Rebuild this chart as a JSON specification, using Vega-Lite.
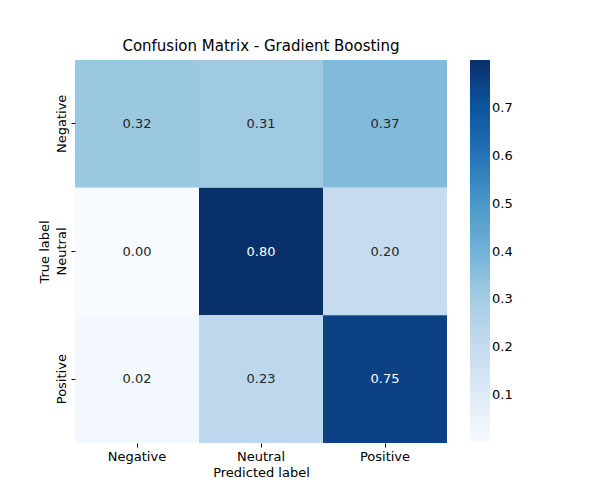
{
  "$schema": "https://vega.github.io/schema/vega-lite/v6.json",
  "autosize": "none",
  "padding": {"left": 75, "top": 60, "right": 153, "bottom": 57},
  "width": 372,
  "height": 383,
  "title": {"text": "Confusion Matrix - Gradient Boosting", "fontSize": 15, "fontWeight": "normal", "font": "DejaVu Sans", "offset": 6, "color": "#000"},
  "data": {"values": [
    {"true": "Negative", "pred": "Negative", "v": 0.32},
    {"true": "Negative", "pred": "Neutral", "v": 0.31},
    {"true": "Negative", "pred": "Positive", "v": 0.37},
    {"true": "Neutral", "pred": "Negative", "v": 0.0},
    {"true": "Neutral", "pred": "Neutral", "v": 0.80},
    {"true": "Neutral", "pred": "Positive", "v": 0.20},
    {"true": "Positive", "pred": "Negative", "v": 0.02},
    {"true": "Positive", "pred": "Neutral", "v": 0.23},
    {"true": "Positive", "pred": "Positive", "v": 0.75}
  ]},
  "encoding": {
    "x": {"field": "pred", "type": "nominal", "sort": ["Negative", "Neutral", "Positive"], "title": "Predicted label",
      "axis": {"labelAngle": 0, "domain": false, "titlePadding": 3}},
    "y": {"field": "true", "type": "nominal", "sort": ["Negative", "Neutral", "Positive"], "title": "True label",
      "axis": {"labelAngle": -90, "labelAlign": "center", "labelBaseline": "bottom", "domain": false, "titlePadding": 4}}
  },
  "layer": [
    {
      "mark": {"type": "rect"},
      "encoding": {
        "color": {"field": "v", "type": "quantitative",
          "scale": {"domain": [0, 0.1, 0.2, 0.3, 0.4, 0.5, 0.6, 0.7, 0.8],
            "range": ["#f7fbff", "#deebf7", "#c6dbef", "#a5cde3", "#72b2d8", "#4a98c9", "#2474b7", "#0b559f", "#08306b"]},
          "legend": {"title": null, "orient": "none", "legendX": 395, "legendY": 0, "gradientLength": 383, "gradientThickness": 20,
            "values": [0.1, 0.2, 0.3, 0.4, 0.5, 0.6, 0.7], "labelFontSize": 13, "labelFont": "DejaVu Sans", "labelColor": "#000", "gradientStrokeWidth": 0}}
      }
    },
    {
      "mark": {"type": "text", "fontSize": 13, "font": "DejaVu Sans"},
      "encoding": {
        "text": {"field": "v", "type": "quantitative", "format": ".2f"},
        "color": {"condition": {"test": "datum.v > 0.5", "value": "white"}, "value": "#262626"}
      }
    }
  ],
  "config": {
    "view": {"stroke": null},
    "axis": {"labelFont": "DejaVu Sans", "titleFont": "DejaVu Sans", "labelFontSize": 13, "titleFontSize": 13, "titleFontWeight": "normal", "labelColor": "#000", "titleColor": "#000", "tickColor": "#000", "tickSize": 4, "grid": false, "labelPadding": 3}
  }
}
